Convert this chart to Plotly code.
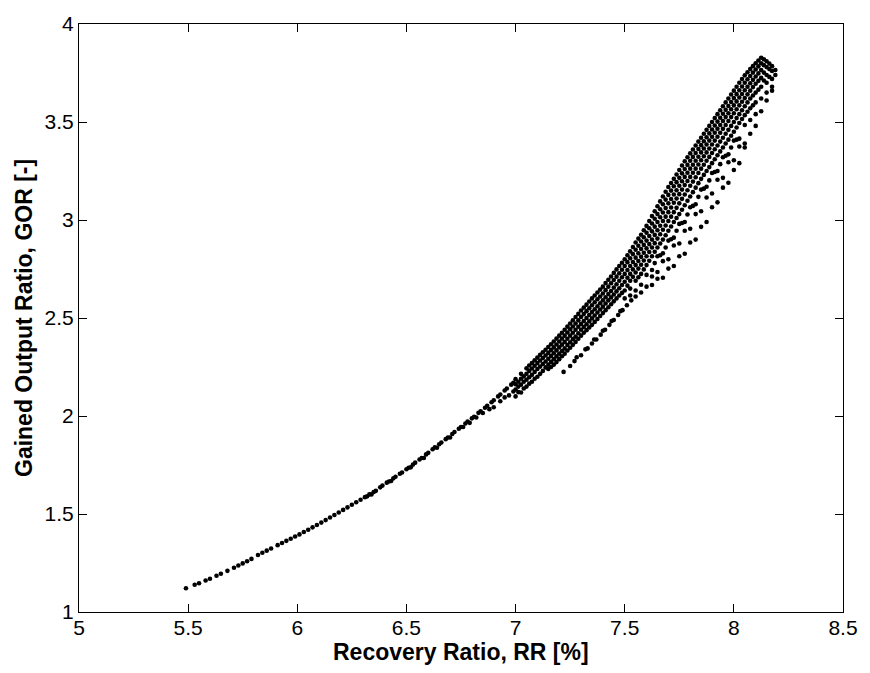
import plotly.graph_objects as go

# ---- data (RR [%], GOR [-]) ----
tail_x = [5.49, 5.53, 5.55, 5.58, 5.60, 5.63, 5.65, 5.68, 5.71, 5.73, 5.75, 5.77, 5.79,
          5.82, 5.84, 5.86, 5.88, 5.91, 5.93, 5.95, 5.97, 5.99, 6.01, 6.03, 6.05, 6.07,
          6.09, 6.11, 6.13, 6.15, 6.17, 6.19, 6.21, 6.23, 6.25, 6.27, 6.29]
tail_y = [1.121, 1.139, 1.147, 1.161, 1.170, 1.185, 1.195, 1.210, 1.226, 1.237, 1.248, 1.259, 1.271,
          1.291, 1.302, 1.313, 1.324, 1.341, 1.352, 1.363, 1.374, 1.385, 1.396, 1.408, 1.420, 1.432,
          1.444, 1.456, 1.469, 1.482, 1.495, 1.508, 1.521, 1.534, 1.547, 1.560, 1.573]

mid_x = [6.31, 6.32, 6.33, 6.35, 6.36, 6.38, 6.39, 6.41, 6.42, 6.44, 6.45, 6.47, 6.48, 6.50,
         6.51, 6.53, 6.54, 6.56, 6.57, 6.59, 6.60, 6.62, 6.63, 6.65, 6.66, 6.68, 6.69, 6.71,
         6.72, 6.74, 6.75, 6.77, 6.78, 6.80, 6.81, 6.83, 6.84, 6.86, 6.87, 6.89, 6.90, 6.92,
         6.93, 6.95, 6.96, 6.98, 6.99,
         6.34, 6.43, 6.52, 6.58, 6.64, 6.70, 6.76, 6.79, 6.82, 6.85, 6.88, 6.90, 6.93, 6.95,
         6.97, 6.99]
mid_y = [1.586, 1.590, 1.600, 1.612, 1.618, 1.636, 1.645, 1.660, 1.666, 1.682, 1.690, 1.705,
         1.712, 1.728, 1.736, 1.752, 1.762, 1.778, 1.786, 1.804, 1.812, 1.830, 1.840, 1.856,
         1.865, 1.882, 1.890, 1.908, 1.918, 1.935, 1.944, 1.962, 1.972, 1.988, 1.996, 2.016,
         2.024, 2.042, 2.052, 2.070, 2.080, 2.100, 2.110, 2.130, 2.140, 2.160, 2.170,
         1.600, 1.668, 1.738, 1.786, 1.838, 1.890, 1.944, 1.965, 1.992, 2.015, 2.035, 2.045,
         2.075, 2.095, 2.105, 2.125]

branch_x = [7.22, 7.25, 7.27, 7.30, 7.33, 7.35, 7.37, 7.39, 7.41, 7.43, 7.45, 7.47, 7.49, 7.51,
            7.53, 7.55, 7.28, 7.32, 7.36, 7.40, 7.44, 7.48]
branch_y = [2.225, 2.255, 2.280, 2.310, 2.345, 2.370, 2.390, 2.415, 2.440, 2.465, 2.490, 2.515,
            2.540, 2.565, 2.590, 2.610, 2.300, 2.340, 2.390, 2.435, 2.485, 2.535]

# band columns (x) with the GOR values read in each column
band_col_x = [7.000, 7.025, 7.050, 7.075, 7.100, 7.125, 7.150, 7.175, 7.200, 7.225, 7.250,
              7.275, 7.300, 7.325, 7.350, 7.375, 7.400, 7.425, 7.450, 7.475, 7.500, 7.525,
              7.550, 7.575, 7.600, 7.625, 7.650, 7.675, 7.700, 7.725, 7.750, 7.775, 7.800,
              7.825, 7.850, 7.875, 7.900, 7.925, 7.950, 7.975, 8.000, 8.025, 8.050, 8.075,
              8.100, 8.125, 8.150, 8.175, 8.190]
band_col_y = [
    [2.188, 2.162, 2.135, 2.100],
    [2.215, 2.190, 2.160, 2.120],
    [2.243, 2.215, 2.185, 2.150],
    [2.270, 2.242, 2.210, 2.175],
    [2.298, 2.270, 2.240, 2.200],
    [2.325, 2.296, 2.265, 2.230],
    [2.352, 2.322, 2.292, 2.262, 2.240],
    [2.380, 2.350, 2.320, 2.290, 2.262],
    [2.410, 2.380, 2.350, 2.318, 2.290],
    [2.440, 2.410, 2.378, 2.345, 2.318],
    [2.472, 2.442, 2.410, 2.376, 2.348],
    [2.505, 2.472, 2.440, 2.405, 2.378],
    [2.538, 2.505, 2.470, 2.440, 2.410],
    [2.568, 2.535, 2.500, 2.468, 2.438],
    [2.600, 2.565, 2.530, 2.498, 2.465],
    [2.630, 2.596, 2.560, 2.528, 2.495],
    [2.660, 2.625, 2.590, 2.558, 2.525],
    [2.695, 2.660, 2.622, 2.590, 2.555],
    [2.730, 2.694, 2.655, 2.620, 2.585],
    [2.765, 2.728, 2.690, 2.652, 2.615],
    [2.800, 2.765, 2.725, 2.685, 2.640, 2.600],
    [2.840, 2.805, 2.765, 2.725, 2.690, 2.650, 2.615],
    [2.885, 2.848, 2.808, 2.770, 2.732, 2.690, 2.640],
    [2.925, 2.890, 2.852, 2.812, 2.772, 2.725, 2.670, 2.630],
    [2.970, 2.935, 2.895, 2.855, 2.815, 2.770, 2.720, 2.660],
    [3.020, 2.982, 2.942, 2.900, 2.860, 2.815, 2.745, 2.712, 2.668],
    [3.070, 3.030, 2.990, 2.948, 2.905, 2.860, 2.815, 2.735, 2.700],
    [3.120, 3.080, 3.038, 2.995, 2.950, 2.900, 2.830, 2.790, 2.705],
    [3.168, 3.128, 3.085, 3.040, 2.995, 2.945, 2.895, 2.800, 2.752],
    [3.210, 3.172, 3.130, 3.088, 3.040, 2.990, 2.910, 2.870, 2.765],
    [3.255, 3.215, 3.175, 3.132, 3.085, 3.030, 2.980, 2.880, 2.815],
    [3.300, 3.260, 3.220, 3.178, 3.130, 3.075, 2.990, 2.945, 2.828],
    [3.340, 3.302, 3.262, 3.220, 3.175, 3.120, 3.065, 2.955, 2.885],
    [3.380, 3.342, 3.302, 3.262, 3.218, 3.165, 3.080, 3.030, 2.900],
    [3.420, 3.382, 3.345, 3.305, 3.262, 3.210, 3.155, 3.045, 2.965],
    [3.460, 3.422, 3.385, 3.345, 3.302, 3.250, 3.170, 3.115, 2.990],
    [3.500, 3.462, 3.425, 3.385, 3.342, 3.290, 3.240, 3.135, 3.065],
    [3.540, 3.502, 3.465, 3.425, 3.380, 3.330, 3.250, 3.205, 3.090],
    [3.580, 3.542, 3.505, 3.465, 3.420, 3.370, 3.320, 3.215, 3.165],
    [3.620, 3.582, 3.545, 3.505, 3.460, 3.410, 3.335, 3.295, 3.190],
    [3.660, 3.622, 3.585, 3.545, 3.500, 3.450, 3.405, 3.305, 3.255],
    [3.700, 3.662, 3.625, 3.585, 3.540, 3.495, 3.415, 3.375, 3.290],
    [3.738, 3.700, 3.662, 3.622, 3.580, 3.535, 3.485, 3.390, 3.370],
    [3.770, 3.735, 3.698, 3.660, 3.620, 3.570, 3.510, 3.440],
    [3.800, 3.768, 3.732, 3.695, 3.650, 3.600, 3.540, 3.480],
    [3.828, 3.800, 3.765, 3.725, 3.680, 3.620, 3.555],
    [3.810, 3.780, 3.740, 3.700, 3.650, 3.610],
    [3.785, 3.760, 3.720, 3.680, 3.660],
    [3.765, 3.740],
]

# in-between columns (denser upper part of the band)
band2_col_x = [7.0125, 7.0375, 7.0625, 7.0875, 7.1125, 7.1375, 7.1625, 7.1875, 7.2125, 7.2375,
               7.2625, 7.2875, 7.3125, 7.3375, 7.3625, 7.3875, 7.4125, 7.4375, 7.4625, 7.4875,
               7.5125, 7.5375, 7.5625, 7.5875, 7.6125, 7.6375, 7.6625, 7.6875, 7.7125, 7.7375,
               7.7625, 7.7875, 7.8125, 7.8375, 7.8625, 7.8875, 7.9125, 7.9375, 7.9625, 7.9875,
               8.0125, 8.0375, 8.0625, 8.0875, 8.1125, 8.1375, 8.1625]
band2_col_y = [
    [2.175, 2.150, 2.122],
    [2.202, 2.175, 2.140],
    [2.258, 2.230, 2.198, 2.165],
    [2.284, 2.256, 2.225, 2.190],
    [2.312, 2.283, 2.252, 2.215],
    [2.338, 2.309, 2.278, 2.248],
    [2.366, 2.336, 2.306, 2.276, 2.250],
    [2.395, 2.365, 2.335, 2.304, 2.275],
    [2.425, 2.395, 2.364, 2.332, 2.305],
    [2.456, 2.426, 2.394, 2.362, 2.334],
    [2.488, 2.457, 2.425, 2.392, 2.363],
    [2.521, 2.488, 2.455, 2.422, 2.394],
    [2.553, 2.520, 2.485, 2.454, 2.425],
    [2.584, 2.550, 2.515, 2.483, 2.452],
    [2.615, 2.580, 2.545, 2.513, 2.480],
    [2.645, 2.610, 2.575, 2.543, 2.510],
    [2.678, 2.642, 2.606, 2.574, 2.540],
    [2.712, 2.677, 2.638, 2.605, 2.570],
    [2.748, 2.711, 2.672, 2.636, 2.600],
    [2.782, 2.746, 2.708, 2.668, 2.628],
    [2.820, 2.785, 2.745, 2.705, 2.665],
    [2.862, 2.826, 2.786, 2.748, 2.710],
    [2.905, 2.869, 2.830, 2.791, 2.752, 2.708],
    [2.948, 2.912, 2.873, 2.833, 2.793, 2.748],
    [2.995, 2.958, 2.918, 2.877, 2.837, 2.792],
    [3.045, 3.006, 2.966, 2.924, 2.882, 2.838, 2.780],
    [3.095, 3.055, 3.014, 2.971, 2.927, 2.880, 2.820],
    [3.144, 3.104, 3.061, 3.017, 2.972, 2.922, 2.860],
    [3.189, 3.150, 3.107, 3.064, 3.017, 2.967, 2.902],
    [3.232, 3.193, 3.152, 3.110, 3.062, 3.010, 2.945],
    [3.278, 3.238, 3.198, 3.155, 3.108, 3.052, 2.985],
    [3.320, 3.281, 3.241, 3.199, 3.152, 3.098, 3.028],
    [3.360, 3.322, 3.282, 3.241, 3.196, 3.142, 3.072],
    [3.400, 3.362, 3.323, 3.283, 3.240, 3.188, 3.118],
    [3.440, 3.402, 3.365, 3.325, 3.282, 3.230, 3.160],
    [3.480, 3.442, 3.405, 3.365, 3.322, 3.270, 3.202],
    [3.520, 3.482, 3.445, 3.405, 3.361, 3.310, 3.245],
    [3.560, 3.522, 3.485, 3.445, 3.400, 3.350, 3.285],
    [3.600, 3.562, 3.525, 3.485, 3.440, 3.390, 3.328],
    [3.640, 3.602, 3.565, 3.525, 3.480, 3.430, 3.370],
    [3.680, 3.642, 3.605, 3.565, 3.520, 3.472, 3.410],
    [3.719, 3.681, 3.643, 3.603, 3.560, 3.515],
    [3.754, 3.718, 3.680, 3.641, 3.600, 3.552],
    [3.785, 3.752, 3.715, 3.678, 3.635, 3.585],
    [3.814, 3.784, 3.748, 3.710, 3.665],
    [3.820, 3.790, 3.752, 3.712],
    [3.798, 3.770, 3.730],
]

x_ticks = [5, 5.5, 6, 6.5, 7, 7.5, 8, 8.5]
x_labels = ["5", "5.5", "6", "6.5", "7", "7.5", "8", "8.5"]
y_ticks = [1, 1.5, 2, 2.5, 3, 3.5, 4]
y_labels = ["1", "1.5", "2", "2.5", "3", "3.5", "4"]
x_title = "Recovery Ratio, RR [%]"
y_title = "Gained Output Ratio, GOR [-]"

# flatten the band tables
band_x, band_y = [], []
for cols_x, cols_y in ((band_col_x, band_col_y), (band2_col_x, band2_col_y)):
    for cx, ys in zip(cols_x, cols_y):
        for yv in ys:
            band_x.append(cx)
            band_y.append(yv)

all_x = tail_x + mid_x + branch_x + band_x
all_y = tail_y + mid_y + branch_y + band_y

FONT = "Liberation Sans, Arial, Helvetica, sans-serif"

fig = go.Figure()
fig.add_trace(go.Scatter(
    x=all_x, y=all_y, mode="markers",
    marker=dict(color="black", size=4.6, line=dict(width=0)),
    showlegend=False, hoverinfo="skip",
))

axis_common = dict(
    showgrid=False, zeroline=False, showline=True, linecolor="black", linewidth=1,
    mirror="ticks", ticks="inside", ticklen=8, tickcolor="black", tickwidth=1,
    tickfont=dict(family=FONT, size=21, color="black"),
)

fig.update_layout(
    width=870, height=673,
    margin=dict(l=79, r=21, t=17, b=61),
    paper_bgcolor="white", plot_bgcolor="white",
    xaxis=dict(range=[5, 8.5], tickvals=x_ticks, ticktext=x_labels,
               ticklabelstandoff=-3, **axis_common),
    yaxis=dict(range=[1, 4], tickvals=y_ticks, ticktext=y_labels, **axis_common),
    annotations=[
        dict(text="<b>" + x_title + "</b>", xref="paper", yref="paper", x=0.5, y=0,
             xanchor="center", yanchor="middle", yshift=-40, showarrow=False,
             font=dict(family=FONT, size=23, color="black")),
        dict(text="<b>" + y_title + "</b>", xref="paper", yref="paper", x=0, y=0.5,
             xanchor="center", yanchor="middle", xshift=-55, textangle=-90, showarrow=False,
             font=dict(family=FONT, size=23, color="black")),
    ],
)

fig.write_html("out.html")
